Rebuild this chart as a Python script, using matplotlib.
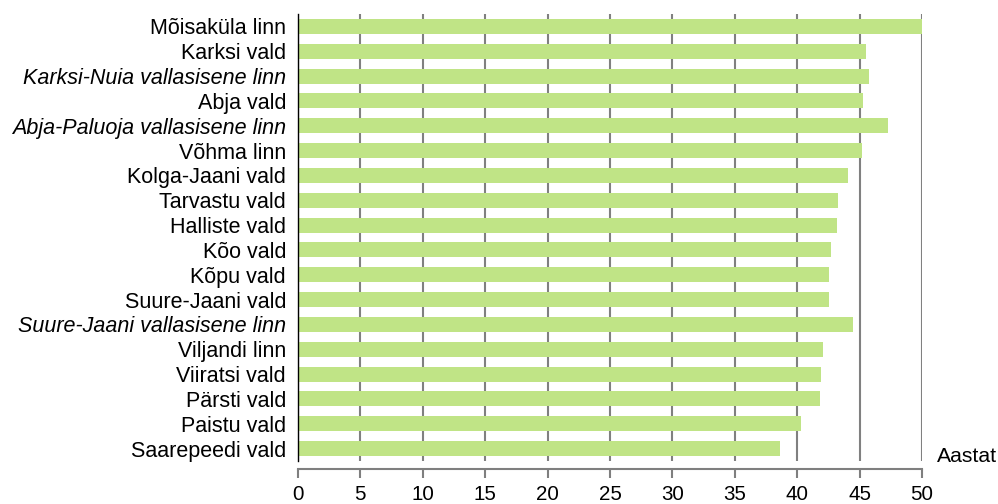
import numpy as np
import matplotlib
matplotlib.use('Agg')
import matplotlib.pyplot as plt

plt.rcParams['font.family'] = ['Liberation Sans', 'DejaVu Sans']

names = ['Mõisaküla linn', 'Karksi vald', 'Karksi-Nuia vallasisene linn', 'Abja vald',
         'Abja-Paluoja vallasisene linn', 'Võhma linn', 'Kolga-Jaani vald', 'Tarvastu vald',
         'Halliste vald', 'Kõo vald', 'Kõpu vald', 'Suure-Jaani vald',
         'Suure-Jaani vallasisene linn', 'Viljandi linn', 'Viiratsi vald', 'Pärsti vald',
         'Paistu vald', 'Saarepeedi vald']
values = [50.0, 45.5, 45.76, 45.28, 47.24, 45.16, 44.1, 43.3, 43.2, 42.7, 42.56, 42.56,
          44.44, 42.1, 41.94, 41.86, 40.3, 38.63]
xticks = [0, 5, 10, 15, 20, 25, 30, 35, 40, 45, 50]

fig = plt.figure(figsize=(9.98, 5.04), dpi=100)
ax = fig.add_axes([297.9 / 998, 1 - 461 / 504, (922 - 297.9) / 998, (461 - 14) / 504])

y = np.arange(len(names))
ax.barh(y, values, height=0.6, color='#C0E486', zorder=3)
ax.set_ylim(len(names) - 0.5, -0.5)
ax.set_xlim(0, 50)

ax.set_xticks(xticks)
ax.set_xticklabels([str(t) for t in xticks])
ax.set_yticks(y)
ax.set_yticklabels(names)
for lbl in ax.get_yticklabels():
    if 'vallasisene' in lbl.get_text():
        lbl.set_fontstyle('italic')

ax.xaxis.grid(True, color='#808080', linewidth=1.5, zorder=0)
ax.set_axisbelow(True)

for s in ['top', 'right']:
    ax.spines[s].set_visible(False)
ax.spines['left'].set_color('black')
ax.spines['left'].set_linewidth(1.0)
ax.spines['left'].set_zorder(4)
ax.spines['bottom'].set_position(('outward', 6))
ax.spines['bottom'].set_color('#7f7f7f')
ax.spines['bottom'].set_linewidth(1.5)

ax.tick_params(axis='y', length=0, pad=8.5, labelsize=15.5)
ax.tick_params(axis='x', direction='out', length=6.5, width=1.5, color='#7f7f7f', pad=5,
               labelsize=14.8)

ax.text(51.2, 17.3, 'Aastat', fontsize=15.2, ha='left', va='center', clip_on=False)

fig.savefig('out.png', dpi=100)
